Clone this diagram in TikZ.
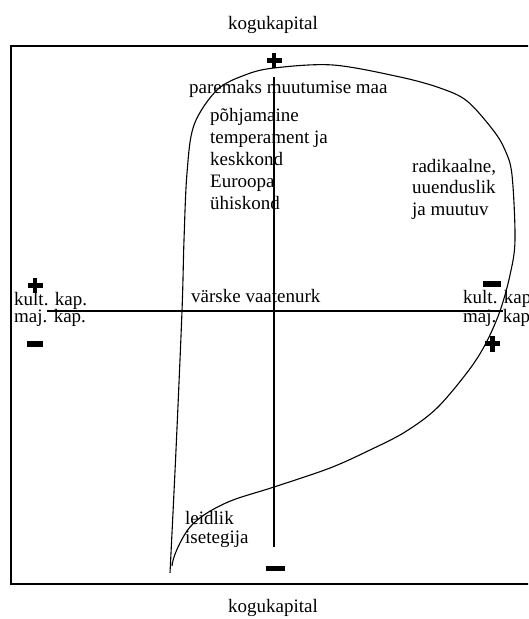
\documentclass[tikz,border=0pt]{standalone}
\usepackage{fontspec}
\setmainfont{Liberation Serif}
\begin{document}
\begin{tikzpicture}[x=1pt,y=-1pt,
  lbl/.style={anchor=base west,inner sep=0pt,font=\fontsize{19}{22}\selectfont},
  ctr/.style={anchor=base,inner sep=0pt,font=\fontsize{19}{22}\selectfont},
  frame/.style={line width=2pt},
  axis/.style={line width=1.8pt},
  curve/.style={line width=1.1pt},
  sign/.style={fill=black,draw=none}]
\useasboundingbox (0,0) rectangle (528,619);
\clip (0,0) rectangle (528,619);
% frame (right side lies outside the picture)
\draw[frame] (540,46) -- (11,46) -- (11,584) -- (540,584);
% axes
\coordinate (vtop) at (274,77);
\coordinate (vbot) at (274,547);
\coordinate (hl) at (47,311);
\coordinate (hr) at (503,311);
\draw[axis] (vtop) -- (vbot);
\draw[axis] (hl) -- (hr);
% signs
\fill[sign] (266.5,58) rectangle (281.5,62.5); \fill[sign] (271.8,52.5) rectangle (276.2,67.5);
\fill[sign] (27.5,283) rectangle (42.5,287.5); \fill[sign] (32.8,277.5) rectangle (37.2,292.5);
\fill[sign] (27,341) rectangle (43,346.5);
\fill[sign] (483,281) rectangle (501,286.5);
\fill[sign] (485,341) rectangle (500,345.5); \fill[sign] (490.3,335.5) rectangle (494.7,351.5);
\fill[sign] (266,565.5) rectangle (285,570.5);
% curve
\draw[curve] plot[smooth,tension=0.55] coordinates {
 (170,573) (176,450) (182,311) (184,240) (187,173) (194,125) (217,90) (245,75) (274,68)
 (333,65) (400,77) (440,88) (467,101) (493,130) (505,150) (512,175) (515,240)
 (510,275) (500,311) (486,343) (469,370) (437,408) (405,432) (370,450) (330,468)
 (274,487) (233,500) (207,513) (190,527) (180,543) (174,557) (172,566)};
% texts
\node[ctr] (ktop) at (273,29) {kogukapital};
\node[ctr] (kbot) at (273,612) {kogukapital};
\node[lbl] (pm) at (189,93) {paremaks muutumise maa};
\node[lbl] (p1) at (210,121) {põhjamaine};
\node[lbl] (p2) at (210,143) {temperament ja};
\node[lbl] (p3) at (210,165) {keskkond};
\node[lbl] (p4) at (210,187) {Euroopa};
\node[lbl] (p5) at (210,209) {ühiskond};
\node[lbl] (r1) at (412,172) {radikaalne,};
\node[lbl] (r2) at (412,193) {uuenduslik};
\node[lbl] (r3) at (412,215) {ja muutuv};
\node[lbl] (kl1) at (14,305) {kult. kap.};
\node[lbl] (kl2) at (14,322) {maj. kap.};
\node[lbl] (vv) at (191,302) {värske vaatenurk};
\node[lbl] (kr1) at (463,303) {kult. kap.};
\node[lbl] (kr2) at (463,322) {maj. kap.};
\node[lbl] (l1) at (185,524) {leidlik};
\node[lbl] (l2) at (185,543) {isetegija};
\end{tikzpicture}
\end{document}
